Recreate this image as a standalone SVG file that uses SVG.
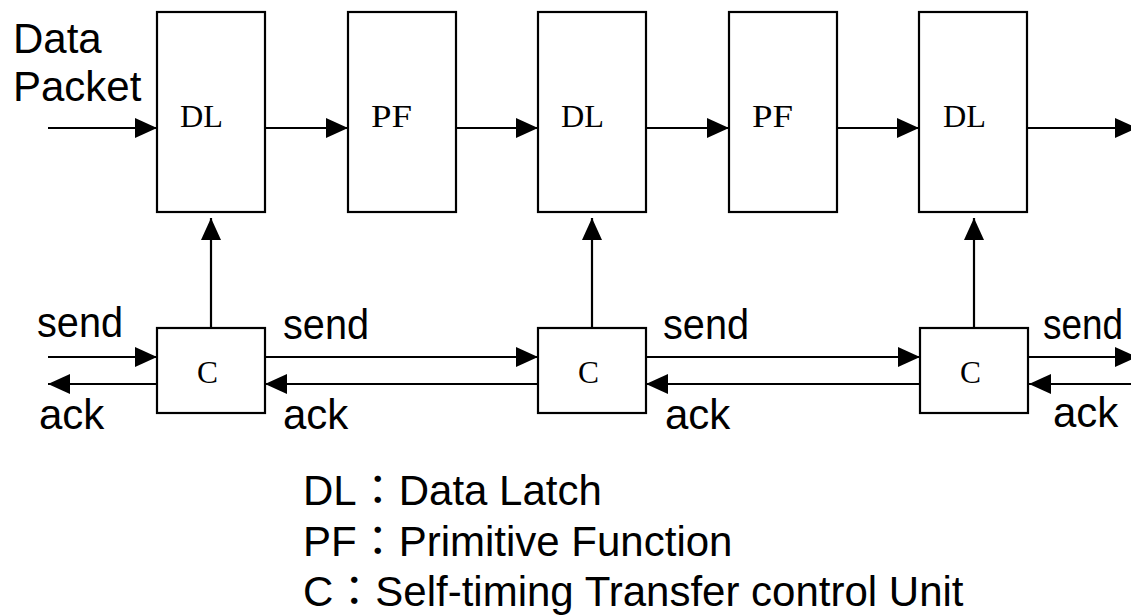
<svg xmlns="http://www.w3.org/2000/svg" width="1131" height="616" viewBox="0 0 1131 616">
<style>
.box{fill:#fff;stroke:#000;stroke-width:2.2}
.lbl{font-family:"Liberation Serif","Times New Roman",serif;font-size:31px;fill:#000}
.txt{font-family:"Liberation Sans",Arial,"Noto Sans CJK JP",sans-serif;font-size:42px;fill:#000}
.ln{stroke:#000;stroke-width:2.2;fill:none;marker-end:url(#ah)}
</style>
<defs>
<marker id="ah" viewBox="0 0 22 20" refX="22" refY="10" markerWidth="22" markerHeight="20" markerUnits="userSpaceOnUse" orient="auto">
<path d="M0,0 L22,10 L0,20 z" fill="#000"/>
</marker>
</defs>
<rect width="1131" height="616" fill="#fff"/>
<g id="connectors">
<line class="ln" x1="48" y1="128" x2="157" y2="128"/>
<line class="ln" x1="265" y1="128" x2="348" y2="128"/>
<line class="ln" x1="456" y1="128" x2="538" y2="128"/>
<line class="ln" x1="646" y1="128" x2="729" y2="128"/>
<line class="ln" x1="837" y1="128" x2="919" y2="128"/>
<line class="ln" x1="1027" y1="128" x2="1137" y2="128"/>
<line class="ln" x1="211" y1="328" x2="211" y2="218"/>
<line class="ln" x1="592" y1="328" x2="592" y2="218"/>
<line class="ln" x1="974" y1="328" x2="974" y2="218"/>
<line class="ln" x1="48" y1="357" x2="157" y2="357"/>
<line class="ln" x1="157" y1="384" x2="48" y2="384"/>
<line class="ln" x1="265" y1="357" x2="538" y2="357"/>
<line class="ln" x1="538" y1="384" x2="265" y2="384"/>
<line class="ln" x1="646" y1="357" x2="920" y2="357"/>
<line class="ln" x1="920" y1="384" x2="646" y2="384"/>
<line class="ln" x1="1028" y1="357" x2="1137" y2="357"/>
<line class="ln" x1="1131" y1="384" x2="1029" y2="384"/>
</g>
<g id="dl1"><rect class="box" x="157" y="12" width="108" height="200"/><text class="lbl" x="180" y="127" textLength="43" lengthAdjust="spacingAndGlyphs">DL</text></g>
<g id="pf1"><rect class="box" x="348" y="12" width="108" height="200"/><text class="lbl" x="371" y="127" textLength="41" lengthAdjust="spacingAndGlyphs">PF</text></g>
<g id="dl2"><rect class="box" x="538" y="12" width="108" height="200"/><text class="lbl" x="561" y="127" textLength="43" lengthAdjust="spacingAndGlyphs">DL</text></g>
<g id="pf2"><rect class="box" x="729" y="12" width="108" height="200"/><text class="lbl" x="752" y="127" textLength="41" lengthAdjust="spacingAndGlyphs">PF</text></g>
<g id="dl3"><rect class="box" x="919" y="12" width="108" height="200"/><text class="lbl" x="943" y="127" textLength="43" lengthAdjust="spacingAndGlyphs">DL</text></g>
<g id="c1"><rect class="box" x="157" y="328" width="108" height="85"/><text class="lbl" x="197" y="383" textLength="21" lengthAdjust="spacingAndGlyphs">C</text></g>
<g id="c2"><rect class="box" x="538" y="328" width="108" height="85"/><text class="lbl" x="578" y="383" textLength="21" lengthAdjust="spacingAndGlyphs">C</text></g>
<g id="c3"><rect class="box" x="920" y="328" width="108" height="85"/><text class="lbl" x="960" y="383" textLength="21" lengthAdjust="spacingAndGlyphs">C</text></g>
<g id="labels">
<text class="txt" x="13" y="53">Data</text>
<text class="txt" x="13" y="101">Packet</text>
<text class="txt" x="37" y="337" textLength="86" lengthAdjust="spacingAndGlyphs">send</text>
<text class="txt" x="39" y="429">ack</text>
<text class="txt" x="283" y="339" textLength="86" lengthAdjust="spacingAndGlyphs">send</text>
<text class="txt" x="283" y="429">ack</text>
<text class="txt" x="663" y="339" textLength="86" lengthAdjust="spacingAndGlyphs">send</text>
<text class="txt" x="665" y="429">ack</text>
<text class="txt" x="1043" y="339" textLength="80" lengthAdjust="spacingAndGlyphs">send</text>
<text class="txt" x="1053" y="427">ack</text>
</g>
<g id="legend">
<text class="txt" x="303" y="505">DL：Data Latch</text>
<text class="txt" x="303" y="556">PF：Primitive Function</text>
<text class="txt" x="303" y="606">C：Self-timing Transfer control Unit</text>
</g>
</svg>
